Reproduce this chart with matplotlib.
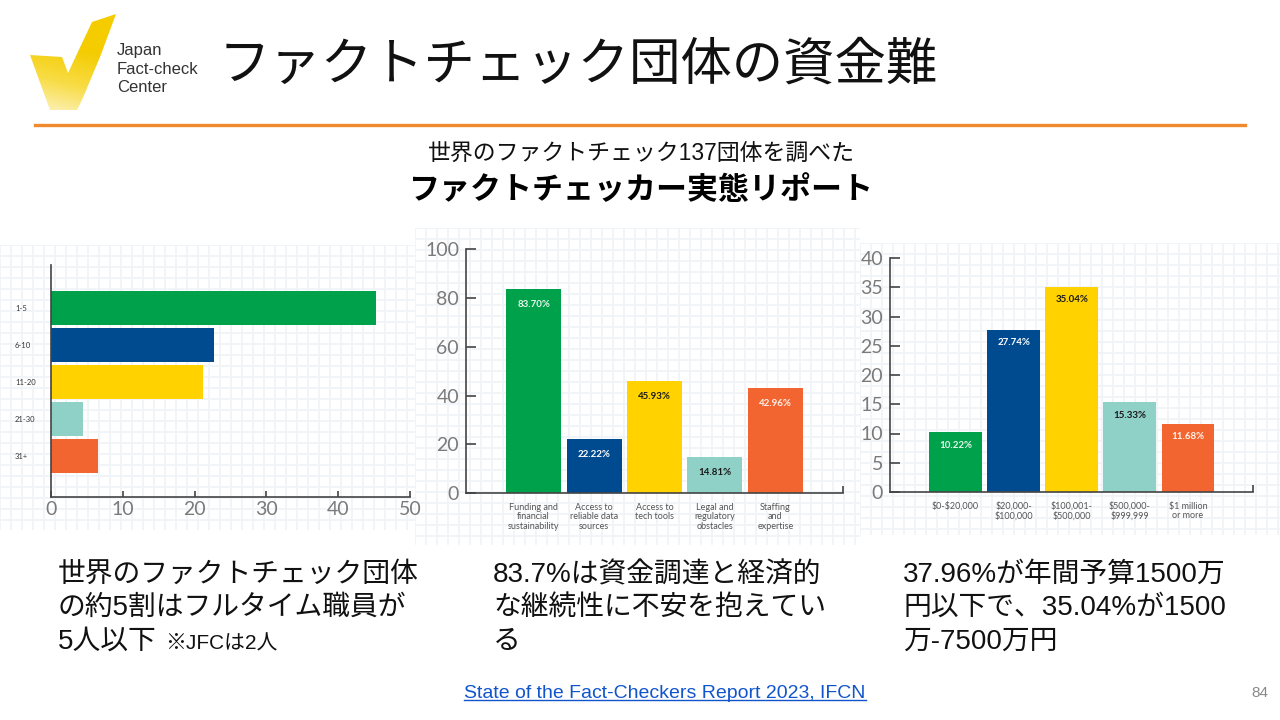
import matplotlib

matplotlib.use("Agg")

import matplotlib.pyplot as plt
import numpy as np
from matplotlib.colors import LinearSegmentedColormap
from matplotlib.lines import Line2D
from matplotlib.patches import Polygon

W, H = 1280, 720

# --- data ---
staff_labels = ["1-5", "6-10", "11-20", "21-30", "31+"]
staff_values = [45.3, 22.7, 21.2, 4.4, 6.6]

challenge_labels = [
    "Funding and\nfinancial\nsustainability",
    "Access to\nreliable data\nsources",
    "Access to\ntech tools",
    "Legal and\nregulatory\nobstacles",
    "Staffing\nand\nexpertise",
]
challenge_values = [83.70, 22.22, 45.93, 14.81, 42.96]

budget_labels = [
    "$0-$20,000",
    "$20,000-\n$100,000",
    "$100,001-\n$500,000",
    "$500,000-\n$999,999",
    "$1 million\nor more",
]
budget_values = [10.22, 27.74, 35.04, 15.33, 11.68]

bar_colors = ["#00a14b", "#004b90", "#ffd200", "#8fd0c7", "#f26531"]
value_colors = ["#e8f8ec", "#ffffff", "#1a1a1a", "#1a1a1a", "#fff2ea"]

JP = ["Noto Sans CJK JP"]
MIX = ["Liberation Sans", "Noto Sans CJK JP"]
CHART = ["Lato", "DejaVu Sans"]

fig = plt.figure(figsize=(12.8, 7.2), dpi=100)
fig.patch.set_facecolor("white")


def px_axes(x0, y0, x1, y1, **kw):
    return fig.add_axes([x0 / W, 1 - y1 / H, (x1 - x0) / W, (y1 - y0) / H], **kw)


def px_text(x, y, s, **kw):
    return fig.text(x / W, 1 - y / H, s, **kw)


def grid_bg(x0, y0, x1, y1):
    # faint graph-paper look behind each pasted chart
    bg = px_axes(x0, y0, x1, y1)
    bg.set_xlim(x0, x1)
    bg.set_ylim(y1, y0)
    bg.set_xticks(np.arange(x0, x1, 11))
    bg.set_yticks(np.arange(y0, y1, 11))
    bg.grid(color="#f0f4f8", lw=1.3)
    bg.tick_params(length=0, labelbottom=False, labelleft=False)
    for s in bg.spines.values():
        s.set_visible(False)
    return bg


def style_spines(ax):
    for side in ("top", "right"):
        ax.spines[side].set_visible(False)
    for side in ("left", "bottom"):
        ax.spines[side].set_color("#444444")
        ax.spines[side].set_linewidth(1.2)
    ax.set_facecolor("none")


def vertical_bars(ax, labels, values, ymax, ystep, xlim, label_offset):
    ax.bar(range(len(values)), values, width=0.91, color=bar_colors)
    ax.set_xlim(*xlim)
    ax.set_ylim(0, ymax)
    ax.set_yticks(np.arange(0, ymax + 1, ystep))
    ax.set_xticks(range(len(values)), [s.replace("$", r"\$") for s in labels])
    ax.set_xticks([xlim[1]], minor=True)
    style_spines(ax)
    ax.tick_params(axis="y", direction="in", length=7, width=1.2, pad=5,
                   labelsize=14, labelcolor="#7a7a7a", color="#444444")
    ax.tick_params(axis="x", which="major", length=0, pad=7, labelsize=6.5,
                   labelcolor="#555555")
    ax.tick_params(axis="x", which="minor", direction="in", length=5,
                   width=1.2, color="#444444")
    for lbl in ax.get_yticklabels() + ax.get_xticklabels():
        lbl.set_family(CHART)
    for lbl in ax.get_xticklabels():
        lbl.set_linespacing(1.05)
    for i, v in enumerate(values):
        ax.annotate(f"{v:.2f}%", (i, v), xytext=(0, -label_offset),
                    textcoords="offset points", ha="center", va="top",
                    fontsize=7, fontweight="bold", color=value_colors[i],
                    family=CHART)


# --- logo ---
logo = px_axes(20, 5, 130, 118)
logo.set_xlim(20, 130)
logo.set_ylim(118, 5)
logo.axis("off")
check = Polygon([(30, 55), (62, 57), (68, 73), (92, 22), (116, 14),
                 (100, 57), (82, 100), (77, 110), (50, 110)],
                closed=True, facecolor="none", edgecolor="none")
logo.add_patch(check)
yy, xx = np.mgrid[5:118:1.0, 20:130:1.0]
grad = np.clip(1.45 - (yy - 10) / 75 + (xx - 60) / 300, 0, 1)
cmap = LinearSegmentedColormap.from_list("logo", ["#fdf4c8", "#f8dc45", "#f4cc00"])
img = logo.imshow(grad, extent=(20, 130, 118, 5), cmap=cmap, vmin=0, vmax=1,
                  aspect="auto", interpolation="bilinear")
img.set_clip_path(check)
for y, s in [(50, "Japan"), (69, "Fact-check"), (88, "Center")]:
    px_text(117, y, s, fontsize=12, color="#333333", family=MIX, va="center")

# --- heading ---
px_text(219, 65, "ファクトチェック団体の資金難", fontsize=37, family=JP,
        va="center", color="#111111")
fig.add_artist(Line2D([35 / W, 1245 / W], [1 - 125 / H, 1 - 125 / H],
                      color="#f08a2c", lw=2.4, transform=fig.transFigure))
px_text(641, 153, "世界のファクトチェック137団体を調べた", fontsize=16.5,
        family=MIX, ha="center", va="center", color="#111111")
px_text(641, 190, "ファクトチェッカー実態リポート", fontsize=22.3, family=JP,
        fontweight="bold", ha="center", va="center", color="#000000")

# --- chart backgrounds ---
grid_bg(0, 245, 415, 530)
grid_bg(415, 228, 860, 545)
grid_bg(860, 243, 1280, 535)

# --- left: full-time staff ---
ax1 = px_axes(51, 265, 410, 497)
ax1.barh(range(len(staff_values)), staff_values, height=0.91, color=bar_colors)
ax1.set_xlim(0, 50)
ax1.set_ylim(5.1, -1.15)
ax1.set_xticks(range(0, 51, 10))
ax1.set_yticks(range(len(staff_labels)), staff_labels)
style_spines(ax1)
ax1.tick_params(axis="x", direction="in", length=4, width=1.2, pad=3,
                labelsize=14, labelcolor="#7a7a7a", color="#444444")
ax1.tick_params(axis="y", length=0, pad=26, labelsize=5.5, labelcolor="#333333")
for lbl in ax1.get_yticklabels():
    lbl.set_ha("left")
for lbl in ax1.get_xticklabels() + ax1.get_yticklabels():
    lbl.set_family(CHART)

# --- middle: challenges ---
ax2 = px_axes(466, 249, 843, 493.3)
vertical_bars(ax2, challenge_labels, challenge_values, 100, 20, (-1.12, 5.12), 8)

# --- right: annual budget ---
ax3 = px_axes(890, 258, 1253, 492)
vertical_bars(ax3, budget_labels, budget_values, 40, 5, (-1.13, 5.12), 6)

# --- captions ---
left_lines = ["世界のファクトチェック団体", "の約5割はフルタイム職員が", "5人以下"]
mid_lines = ["83.7%は資金調達と経済的", "な継続性に不安を抱えてい", "る"]
right_lines = ["37.96%が年間予算1500万", "円以下で、35.04%が1500", "万-7500万円"]
cap_texts = []
for x, lines in [(58, left_lines), (493, mid_lines), (903, right_lines)]:
    for y, s in zip((575, 608, 642), lines):
        cap_texts.append(px_text(x, y, s, fontsize=20, family=MIX, va="center",
                                 color="#111111"))

src = px_text(665, 693, "State of the Fact-Checkers Report 2023, IFCN", fontsize=14,
              family=MIX, ha="center", va="center", color="#1155cc")
px_text(1268, 693, "84", fontsize=11, family=MIX, ha="right", va="center",
        color="#888888")

fig.canvas.draw()
# note after "5人以下", placed right after its measured end
end5 = cap_texts[2].get_window_extent().transformed(fig.transFigure.inverted()).x1
fig.text(end5 + 8 / W, 1 - 644 / H, "※JFCは2人", fontsize=15, family=MIX,
         va="center", color="#111111")

# underline the source link
bb = src.get_window_extent().transformed(fig.transFigure.inverted())
fig.add_artist(Line2D([bb.x0, bb.x1], [bb.y0 + 0.002, bb.y0 + 0.002],
                      color="#1155cc", lw=1.0, transform=fig.transFigure))

fig.savefig("out.png", dpi=100)
plt.close(fig)
